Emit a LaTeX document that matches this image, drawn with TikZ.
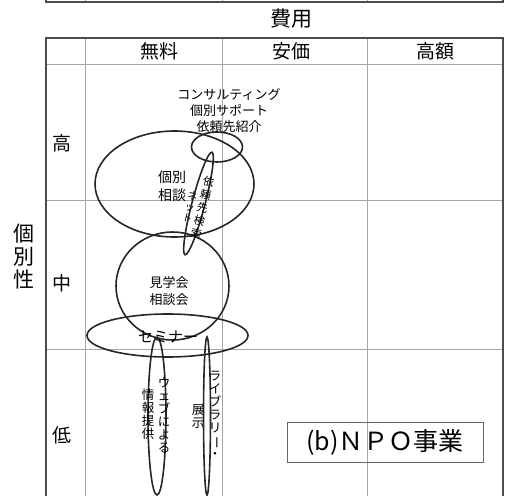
\documentclass[tikz,border=0pt]{standalone}
\usepackage{fontspec}
\usepackage{graphicx}
\setmainfont{Noto Sans CJK JP}
\usetikzlibrary{positioning}
\newcommand{\tbar}{\rotatebox[origin=c]{-90}{ー}}

\begin{document}
\begin{tikzpicture}[x=1pt,y=-1pt,
        frame/.style={draw=black!70, line width=2pt},
        grid/.style={draw=black!35, line width=0.8pt},
        blob/.style={draw=black!85, line width=1.6pt},
        head/.style={font=\fontsize{19}{19}\selectfont, inner sep=0pt},
        small/.style={font=\fontsize{13}{16}\selectfont, align=center, inner sep=0pt},
        tate/.style={font=\fontsize{12.5}{13}\selectfont, align=center, inner sep=0pt}]
    \useasboundingbox (0,0) rectangle (507,496);
    % strip of the table above
    \foreach \x in {85,222,367}
        \draw[grid] (\x,0)--(\x,2);
    \draw[frame] (46,-2)--(46,1.5)--(503,1.5)--(503,-2);

    % table
    \node[font=\fontsize{21}{21}\selectfont, inner sep=0pt] (cost) at (291,19) {費用};
    \foreach \x in {85,222,367}
        \draw[grid] (\x,38)--(\x,496);
    \foreach \y in {64,200,349}
        \draw[grid] (46,\y)--(503,\y);
    \draw[frame] (46,497)--(46,38)--(503,38)--(503,497);
    \node[head] (free) at (159,51) {無料};
    \node[head] (cheap) at (291,51) {安価};
    \node[head] (dear) at (435,51) {高額};
    \node[head] (high) at (62,143) {高};
    \node[head] (mid) at (62,283) {中};
    \node[head] (low) at (62,435) {低};
    \node[font=\fontsize{21}{23}\selectfont, align=center, inner sep=0pt] (indiv) at (24,257) {個\\別\\性};

    % ellipses
    \draw[blob] (217,147) ellipse [x radius=25.5, y radius=15];
    \draw[blob] (174.5,184) ellipse [x radius=79.5, y radius=53];
    \draw[blob, rotate around={-14.7:(198.5,203.5)}] (198.5,203.5) ellipse [x radius=6.5, y radius=53];
    \draw[blob] (172.5,286) ellipse [x radius=56.5, y radius=54];
    \draw[blob] (167.5,335.5) ellipse [x radius=80.5, y radius=21.5];
    \draw[blob] (157,416) ellipse [x radius=9, y radius=79];
    \draw[blob] (207,416) ellipse [x radius=3.5, y radius=79];

    % labels
    \node[small] (consult) at (229,111) {コンサルティング\\個別サポート\\依頼先紹介};
    \node[small, font=\fontsize{14}{18}\selectfont] (talk) at (172,186) {個別\\相談};
    \node[tate, font=\fontsize{11}{13.5}\selectfont, rotate=-13.3] (search) at (202.5,207.5) {依\\頼\\先\\検\\索};
    \node[tate, font=\fontsize{10}{11}\selectfont, rotate=-14] (net) at (190,207) {ネ\\ッ\\ト};
    \node[small, font=\fontsize{13}{17}\selectfont] (visit) at (169,291.5) {見学会\\相談会};
    \node[small, font=\fontsize{15}{15}\selectfont] (seminar) at (168,337) {セミナ\makebox[15pt]{ー}};
    \node[tate] (web) at (164,415) {ウ\\ェ\\ブ\\に\\よ\\る};
    \node[tate] (info) at (148,414) {情\\報\\提\\供};
    \node[tate] (lib) at (215,415) {ラ\\イ\\ブ\\ラ\\リ\\\tbar\\・};
    \node[tate] (show) at (198,416.5) {展\\示};

    \node[draw=black!60, line width=0.8pt, minimum width=196pt, minimum height=40pt,
        font=\fontsize{25}{25}\selectfont] (title) at (385,442) {(b)ＮＰＯ事業};
\end{tikzpicture}
\end{document}
